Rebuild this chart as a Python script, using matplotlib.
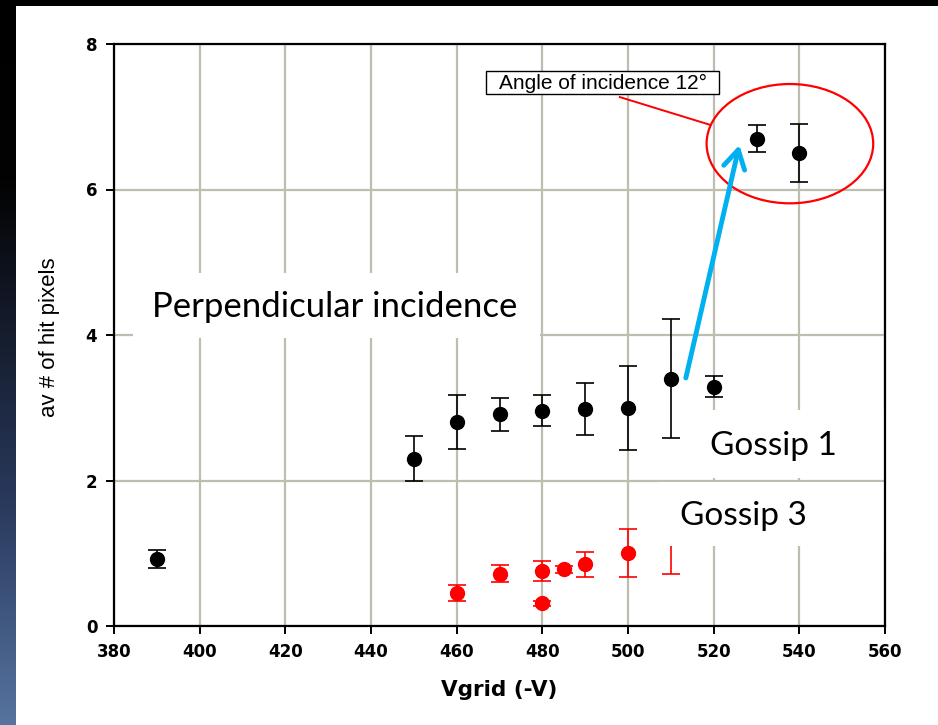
import matplotlib.pyplot as plt
import numpy as np
from matplotlib.colors import LinearSegmentedColormap
from matplotlib.patches import Ellipse, Rectangle, FancyArrowPatch

# Gossip 1, perpendicular incidence
g1_vgrid = [390, 450, 460, 470, 480, 490, 500, 510, 520]
g1_hits = [0.92, 2.30, 2.80, 2.91, 2.96, 2.98, 3.00, 3.40, 3.29]
g1_err = [0.12, 0.31, 0.37, 0.23, 0.21, 0.36, 0.58, 0.82, 0.14]

# Gossip 1, angle of incidence 12 deg
tilt_vgrid = [530, 540]
tilt_hits = [6.70, 6.50]
tilt_err = [0.19, 0.40]

# Gossip 3
g3_vgrid = [460, 470, 480, 480, 485, 490, 500, 510]
g3_hits = [0.45, 0.72, 0.76, 0.31, 0.78, 0.85, 1.00, 1.30]
g3_err = [0.11, 0.115, 0.14, 0.04, 0.05, 0.17, 0.33, 0.59]

x_ticks = [380, 400, 420, 440, 460, 480, 500, 520, 540, 560]
y_ticks = [0, 2, 4, 6, 8]

fig = plt.figure(figsize=(9.38, 7.25), dpi=100)
fig.patch.set_facecolor('white')

# slide frame: black top band and dark blue strip on the left
bg = fig.add_axes([0, 0, 1, 1], zorder=-5)
bg.axis('off')
frame_cmap = LinearSegmentedColormap.from_list(
    'frame', [(0.0, '#000000'), (0.25, '#030303'), (0.7, '#2a3a5e'), (1.0, '#56749f')])
grad = np.linspace(0, 1, 256).reshape(-1, 1)
bg.imshow(grad, cmap=frame_cmap, aspect='auto', extent=[0, 15 / 938, 0, 1], origin='upper')
bg.add_patch(Rectangle((0, 1 - 6 / 725), 1, 6 / 725, fc='black', ec='none'))
bg.set_xlim(0, 1)
bg.set_ylim(0, 1)

ax = fig.add_axes([114 / 938, 99 / 725, 771 / 938, 582 / 725])
ax.set_xlim(380, 560)
ax.set_ylim(0, 8)
ax.set_xticks(x_ticks)
ax.set_yticks(y_ticks)
ax.grid(True, color='#bdbdb0', lw=1.6)
ax.set_axisbelow(True)
for s in ax.spines.values():
    s.set_linewidth(1.6)
    s.set_color('black')
ax.tick_params(direction='out', length=6, width=1.4, pad=6, top=False, right=False)
for lab in ax.get_xticklabels() + ax.get_yticklabels():
    lab.set_fontfamily('DejaVu Sans')
    lab.set_fontweight('bold')
    lab.set_fontsize(12)

ebar = dict(fmt='o', ms=10, capsize=6.5, elinewidth=1.2, capthick=1.2, zorder=2.2)
ax.errorbar(g1_vgrid, g1_hits, yerr=g1_err, color='black', **ebar)
ax.errorbar(tilt_vgrid, tilt_hits, yerr=tilt_err, color='black', **ebar)
ax.errorbar(g3_vgrid, g3_hits, yerr=g3_err, color='red', **ebar)

# white label boxes laid over the grid
def label_box(x0, y0, x1, y1, text, tx, ty, size=24):
    ax.add_patch(Rectangle((x0, y0), x1 - x0, y1 - y0, transform=ax.transAxes,
                           fc='white', ec='none', zorder=2.4))
    ax.text(tx, ty, text, transform=ax.transAxes, ha='center', va='baseline',
            fontsize=size, family='Lato', color='black', zorder=2.45)

label_box(0.0246, 0.4948, 0.5525, 0.6065, 'Perpendicular incidence', 0.2866, 0.531, 25)
label_box(0.760, 0.254, 1.0, 0.371, 'Gossip 1', 0.855, 0.294)
label_box(0.708, 0.137, 1.0, 0.247, 'Gossip 3', 0.817, 0.1735)

# circled tilted points with callout
ax.add_patch(Ellipse((537.8, 6.63), 38.9, 1.64, fill=False, ec='red', lw=1.6, zorder=3))
ax.plot([498.1, 519.1], [7.27, 6.89], color='red', lw=1.4, zorder=3)
ax.add_patch(Rectangle((0.483, 0.9135), 0.302, 0.040, transform=ax.transAxes,
                       fc='white', ec='black', lw=1.0, zorder=4))
ax.text(0.634, 0.9325, 'Angle of incidence 12°', transform=ax.transAxes,
        ha='center', va='center', fontsize=15, family='Liberation Sans', zorder=5)

ax.add_patch(FancyArrowPatch((513.5, 3.41), (526.0, 6.61),
                             arrowstyle='->,head_length=0.6,head_width=0.35',
                             mutation_scale=22, color='#00b0f0', lw=3.5, zorder=4,
                             shrinkA=0, shrinkB=0))

fig.text(49 / 938, 1 - 337 / 725, 'av # of hit pixels', rotation=90, ha='center', va='center',
         fontsize=16, family='Liberation Sans')
fig.text(499.5 / 938, 1 - 690 / 725, 'Vgrid (-V)', ha='center', va='center',
         fontsize=15.5, family='DejaVu Sans', fontweight='bold')

fig.savefig('out.png', dpi=100)
